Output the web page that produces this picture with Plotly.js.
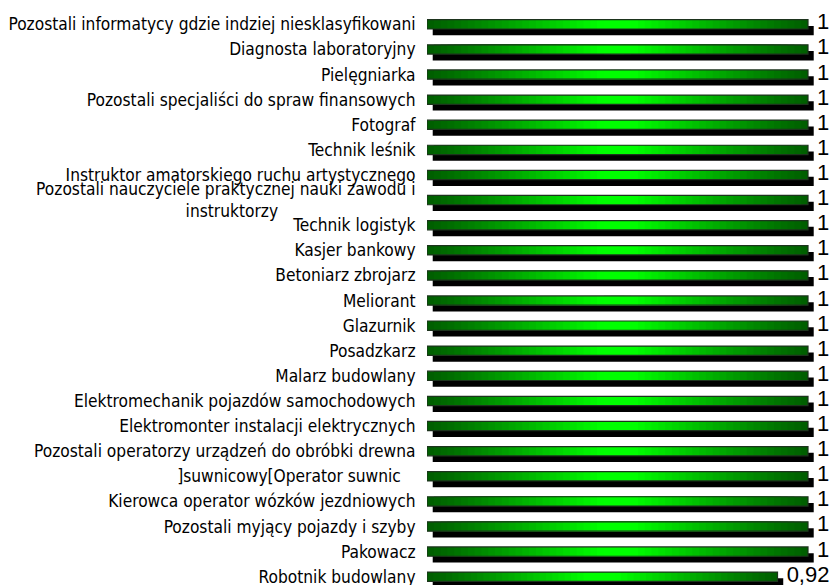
<!DOCTYPE html>
<html>
<head>
<meta charset="utf-8">
<script src="https://cdn.plot.ly/plotly-3.0.1.min.js"></script>
<style>html,body{margin:0;padding:0;background:#fff}#chart{width:833px;height:585px}</style>
</head>
<body>
<div id="chart"></div>
<script>
// ---- data ----
const categories = [
  "Pozostali informatycy gdzie indziej niesklasyfikowani",
  "Diagnosta laboratoryjny",
  "Pielęgniarka",
  "Pozostali specjaliści do spraw finansowych",
  "Fotograf",
  "Technik leśnik",
  "Instruktor amatorskiego ruchu artystycznego",
  "Pozostali nauczyciele praktycznej nauki zawodu i instruktorzy",
  "Technik logistyk",
  "Kasjer bankowy",
  "Betoniarz zbrojarz",
  "Meliorant",
  "Glazurnik",
  "Posadzkarz",
  "Malarz budowlany",
  "Elektromechanik pojazdów samochodowych",
  "Elektromonter instalacji elektrycznych",
  "Pozostali operatorzy urządzeń do obróbki drewna",
  "]suwnicowy[Operator suwnic ",
  "Kierowca operator wózków jezdniowych",
  "Pozostali myjący pojazdy i szyby",
  "Pakowacz",
  "Robotnik budowlany"
];
const values = [1,1,1,1,1,1,1,1,1,1,1,1,1,1,1,1,1,1,1,1,1,1,0.92];

// ---- display helpers ----
const NB = "\u00a0";
const tickLabels = categories.map(c => {
  if (c.startsWith("Pozostali nauczyciele")) {
    return "Pozostali nauczyciele praktycznej nauki zawodu i<br>instruktorzy" + NB.repeat(28);
  }
  if (c.endsWith(" ")) return c.trimEnd() + NB + NB + NB;
  return c;
});
const valueText = values.map(v => NB + String(v).replace(".", ","));

const W = 0.37;          // bar thickness (category units)
const SH_DY = 0.25;      // shadow vertical shift
const SH_DX = 0.015;     // shadow horizontal shift (value units)

const traces = [];
// shadow
traces.push({
  type: "bar", orientation: "h",
  y: categories, x: values,
  base: values.map(() => SH_DX),
  width: W, offset: -W / 2 + SH_DY,
  marker: {color: "#000", line: {width: 0}},
  hoverinfo: "skip", showlegend: false
});
// gradient (nested bars, dark at the ends, bright in the middle)
const N = 28;
for (let k = 0; k < N; k++) {
  const t = Math.min(1, k / (0.9 * N));
  const g = Math.round(95 + (255 - 95) * Math.pow(t, 1.1));
  traces.push({
    type: "bar", orientation: "h",
    y: categories,
    x: values.map(v => v * (1 - k / N)),
    base: values.map(v => v * k / (2 * N)),
    width: W, offset: -W / 2,
    marker: {color: `rgb(0,${g},0)`, line: {width: 0}},
    hoverinfo: "skip", showlegend: false
  });
}
// outline
traces.push({
  type: "bar", orientation: "h",
  y: categories, x: values,
  width: W, offset: -W / 2,
  marker: {color: "rgba(0,0,0,0)", line: {color: "#1d331d", width: 1.2}},
  hoverinfo: "skip", showlegend: false
});
// value labels (invisible carrier bar, slightly raised)
traces.push({
  type: "bar", orientation: "h",
  y: categories, x: values,
  width: W, offset: -W / 2 - 0.1,
  marker: {color: "rgba(0,0,0,0)", line: {width: 0}},
  text: valueText, textposition: "outside", constraintext: "none",
  cliponaxis: false,
  textfont: {family: "Liberation Sans, Arial, sans-serif", size: 22, color: "#000"},
  hoverinfo: "skip", showlegend: false
});

const layout = {
  width: 833, height: 585,
  margin: {l: 427, r: 0, t: 0, b: 0, pad: 0},
  paper_bgcolor: "#fff", plot_bgcolor: "#fff",
  barmode: "overlay",
  xaxis: {range: [0, 406 / 381], visible: false, fixedrange: true},
  yaxis: {
    type: "category",
    range: [22.33, -0.97],
    tickmode: "array",
    tickvals: categories,
    ticktext: tickLabels,
    showgrid: false, zeroline: false, showline: false,
    ticks: "outside", ticklen: 7, tickcolor: "rgba(0,0,0,0)",
    tickfont: {family: "DejaVu Sans Condensed, DejaVu Sans, sans-serif", size: 17.2, color: "#000"},
    automargin: false, fixedrange: true
  },
  showlegend: false
};

Plotly.newPlot("chart", traces, layout, {displayModeBar: false, staticPlot: true});
</script>
</body>
</html>
